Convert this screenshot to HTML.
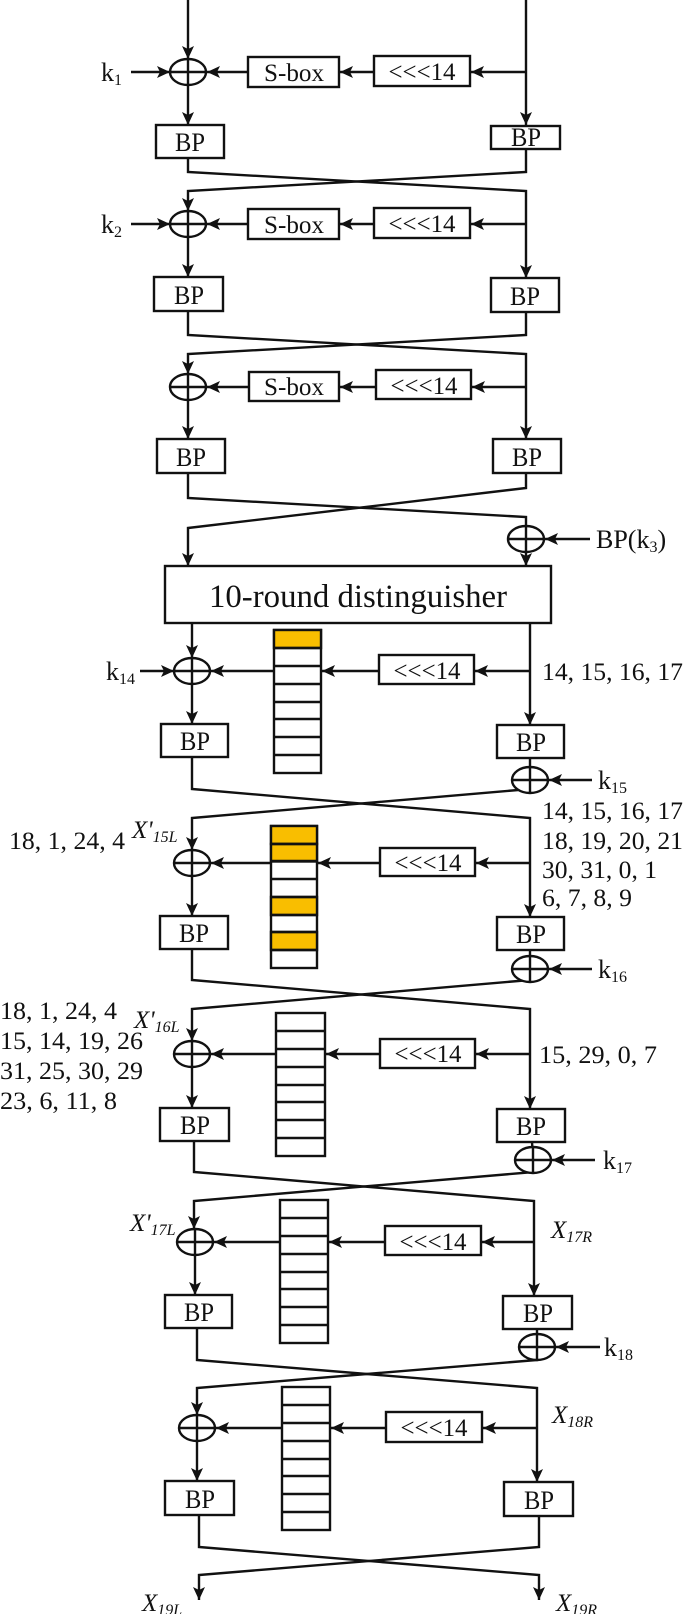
<!DOCTYPE html>
<html><head><meta charset="utf-8"><style>
html,body{margin:0;padding:0;background:#fff}
svg{display:block}
text{font-family:"Liberation Serif",serif;fill:#111}
</style></head><body>
<svg width="685" height="1614" viewBox="0 0 685 1614" xmlns="http://www.w3.org/2000/svg">
<defs>
<marker id="a" markerUnits="userSpaceOnUse" markerWidth="14" markerHeight="12" refX="13" refY="6" orient="auto">
<path d="M0,0 L13,6 L0,12 L3,6 z" fill="#111"/>
</marker>
</defs>
<g stroke="#111" stroke-width="2.4" fill="none">
<!-- Round 1 -->
<line x1="188" y1="0" x2="188" y2="59" marker-end="url(#a)"/>
<line x1="526" y1="0" x2="526" y2="125" marker-end="url(#a)"/>
<line x1="526" y1="72" x2="471" y2="72" marker-end="url(#a)"/>
<line x1="374" y1="72" x2="340" y2="72" marker-end="url(#a)"/>
<line x1="248" y1="72" x2="207" y2="72" marker-end="url(#a)"/>
<line x1="131" y1="72" x2="170" y2="72" marker-end="url(#a)"/>
<line x1="188" y1="85" x2="188" y2="125" marker-end="url(#a)"/>
<rect x="248" y="57" width="91" height="30"/><rect x="374" y="56" width="96" height="30"/>
<rect x="156" y="125" width="68" height="33"/><rect x="491" y="126" width="69" height="23"/>
<polyline points="188,158 188,172 526,191 526,278" marker-end="url(#a)"/>
<polyline points="526,149 526,172 188,191 188,211" marker-end="url(#a)"/>
<!-- Round 2 -->
<line x1="526" y1="224" x2="471" y2="224" marker-end="url(#a)"/>
<line x1="374" y1="224" x2="340" y2="224" marker-end="url(#a)"/>
<line x1="248" y1="224" x2="207" y2="224" marker-end="url(#a)"/>
<line x1="131" y1="224" x2="170" y2="224" marker-end="url(#a)"/>
<line x1="188" y1="237" x2="188" y2="277" marker-end="url(#a)"/>
<rect x="248" y="209" width="91" height="30"/><rect x="374" y="208" width="96" height="30"/>
<rect x="154" y="277" width="69" height="34"/><rect x="491" y="278" width="68" height="34"/>
<polyline points="188,311 188,335 526,354 526,439" marker-end="url(#a)"/>
<polyline points="526,312 526,335 188,354 188,374" marker-end="url(#a)"/>
<!-- Round 3 -->
<line x1="526" y1="387" x2="472" y2="387" marker-end="url(#a)"/>
<line x1="376" y1="387" x2="340" y2="387" marker-end="url(#a)"/>
<line x1="249" y1="387" x2="207" y2="387" marker-end="url(#a)"/>
<line x1="188" y1="400" x2="188" y2="439" marker-end="url(#a)"/>
<rect x="249" y="372" width="90" height="29"/><rect x="376" y="370" width="95" height="29"/>
<rect x="157" y="439" width="68" height="34"/><rect x="493" y="439" width="68" height="34"/>
<polyline points="188,473 188,498 526,517 526,526"/>
<polyline points="526,473 526,488 188,528 188,566" marker-end="url(#a)"/>
<line x1="526" y1="552" x2="526" y2="566" marker-end="url(#a)"/>
<line x1="590" y1="539" x2="545" y2="539" marker-end="url(#a)"/>
<rect x="165" y="566" width="386" height="57"/>
<!-- Round 14 -->
<line x1="192" y1="623" x2="192" y2="658" marker-end="url(#a)"/>
<line x1="530" y1="623" x2="530" y2="725" marker-end="url(#a)"/>
<line x1="530" y1="671" x2="475" y2="671" marker-end="url(#a)"/>
<line x1="379" y1="671" x2="322" y2="671" marker-end="url(#a)"/>
<line x1="274" y1="671" x2="211" y2="671" marker-end="url(#a)"/>
<line x1="140" y1="671" x2="174" y2="671" marker-end="url(#a)"/>
<line x1="192" y1="684" x2="192" y2="724" marker-end="url(#a)"/>
<rect x="379" y="655" width="95" height="29"/>
<rect x="161" y="724" width="67" height="33"/><rect x="497" y="725" width="67" height="33"/>
<line x1="592" y1="780" x2="549" y2="780" marker-end="url(#a)"/>
<polyline points="192,757 192,789 530,818 530,917" marker-end="url(#a)"/>
<polyline points="530,758 530,789 192,818 192,850" marker-end="url(#a)"/>
<!-- Round 15 -->
<line x1="530" y1="863" x2="476" y2="863" marker-end="url(#a)"/>
<line x1="380" y1="863" x2="318" y2="863" marker-end="url(#a)"/>
<line x1="271" y1="863" x2="211" y2="863" marker-end="url(#a)"/>
<line x1="192" y1="876" x2="192" y2="916" marker-end="url(#a)"/>
<rect x="380" y="848" width="95" height="28"/>
<rect x="160" y="916" width="68" height="33"/><rect x="497" y="917" width="67" height="33"/>
<line x1="592" y1="969" x2="549" y2="969" marker-end="url(#a)"/>
<polyline points="192,949 192,980 530,1009 530,1109" marker-end="url(#a)"/>
<polyline points="530,950 530,980 192,1009 192,1041" marker-end="url(#a)"/>
<!-- Round 16 -->
<line x1="530" y1="1054" x2="476" y2="1054" marker-end="url(#a)"/>
<line x1="380" y1="1054" x2="326" y2="1054" marker-end="url(#a)"/>
<line x1="276" y1="1054" x2="211" y2="1054" marker-end="url(#a)"/>
<line x1="192" y1="1067" x2="192" y2="1108" marker-end="url(#a)"/>
<rect x="380" y="1039" width="95" height="29"/>
<rect x="160" y="1108" width="69" height="33"/><rect x="497" y="1109" width="68" height="33"/>
<line x1="595" y1="1160" x2="552" y2="1160" marker-end="url(#a)"/>
<polyline points="194,1141 194,1172 534,1201 534,1296" marker-end="url(#a)"/>
<polyline points="532,1142 534,1172 194,1201 194,1229" marker-end="url(#a)"/>
<!-- Round 17 -->
<line x1="534" y1="1242" x2="482" y2="1242" marker-end="url(#a)"/>
<line x1="385" y1="1242" x2="329" y2="1242" marker-end="url(#a)"/>
<line x1="280" y1="1242" x2="214" y2="1242" marker-end="url(#a)"/>
<line x1="195" y1="1255" x2="195" y2="1295" marker-end="url(#a)"/>
<rect x="385" y="1226" width="96" height="29"/>
<rect x="165" y="1295" width="67" height="33"/><rect x="503" y="1296" width="69" height="33"/>
<line x1="600" y1="1347" x2="556" y2="1347" marker-end="url(#a)"/>
<polyline points="197,1328 197,1360 537,1388 537,1482" marker-end="url(#a)"/>
<polyline points="537,1329 537,1360 197,1388 197,1415" marker-end="url(#a)"/>
<!-- Round 18 -->
<line x1="537" y1="1428" x2="483" y2="1428" marker-end="url(#a)"/>
<line x1="386" y1="1428" x2="331" y2="1428" marker-end="url(#a)"/>
<line x1="282" y1="1428" x2="216" y2="1428" marker-end="url(#a)"/>
<line x1="197" y1="1441" x2="197" y2="1481" marker-end="url(#a)"/>
<rect x="386" y="1412" width="96" height="30"/>
<rect x="165" y="1481" width="69" height="34"/><rect x="504" y="1482" width="69" height="34"/>
<polyline points="199,1515 199,1547 539,1575 539,1600" marker-end="url(#a)"/>
<polyline points="539,1516 539,1547 199,1575 199,1600" marker-end="url(#a)"/>
</g>

<!-- cell columns -->
<g stroke="#111" stroke-width="2.4">
<g fill="#fff">
<rect x="274" y="630" width="47" height="143"/>
<rect x="271" y="826" width="46" height="142"/>
<rect x="276" y="1013" width="49" height="143"/>
<rect x="280" y="1200" width="48" height="143"/>
<rect x="282" y="1387" width="48" height="143"/>
</g>
<g fill="#F9BE00">
<rect x="274" y="630" width="47" height="18"/>
<rect x="271" y="826" width="46" height="18"/>
<rect x="271" y="844" width="46" height="17.5"/>
<rect x="271" y="897" width="46" height="18"/>
<rect x="271" y="932" width="46" height="18"/>
</g>
<path fill="none" d="M274,648H321M274,666H321M274,684H321M274,702H321M274,719H321M274,737H321M274,755H321
M271,844H317M271,861H317M271,879H317M271,897H317M271,915H317M271,932H317M271,950H317
M276,1031H325M276,1049H325M276,1067H325M276,1085H325M276,1102H325M276,1120H325M276,1138H325
M280,1218H328M280,1236H328M280,1254H328M280,1272H328M280,1289H328M280,1307H328M280,1325H328
M282,1405H330M282,1423H330M282,1441H330M282,1459H330M282,1476H330M282,1494H330M282,1512H330"/>
</g>

<!-- XORs -->
<g stroke="#111" stroke-width="2.4" fill="#fff">
<g><ellipse cx="188" cy="72" rx="18" ry="13"/><path d="M170,72H206M188,59V85"/></g>
<g><ellipse cx="188" cy="224" rx="18" ry="13"/><path d="M170,224H206M188,211V237"/></g>
<g><ellipse cx="188" cy="387" rx="18" ry="13"/><path d="M170,387H206M188,374V400"/></g>
<g><ellipse cx="526" cy="539" rx="18" ry="13"/><path d="M508,539H544M526,526V552"/></g>
<g><ellipse cx="192" cy="671" rx="18" ry="13"/><path d="M174,671H210M192,658V684"/></g>
<g><ellipse cx="530" cy="780" rx="18" ry="13"/><path d="M512,780H548M530,767V793"/></g>
<g><ellipse cx="192" cy="863" rx="18" ry="13"/><path d="M174,863H210M192,850V876"/></g>
<g><ellipse cx="530" cy="969" rx="18" ry="13"/><path d="M512,969H548M530,956V982"/></g>
<g><ellipse cx="192" cy="1054" rx="18" ry="13"/><path d="M174,1054H210M192,1041V1067"/></g>
<g><ellipse cx="533" cy="1160" rx="18" ry="13"/><path d="M515,1160H551M533,1147V1173"/></g>
<g><ellipse cx="195" cy="1242" rx="18" ry="13"/><path d="M177,1242H213M195,1229V1255"/></g>
<g><ellipse cx="537" cy="1347" rx="18" ry="13"/><path d="M519,1347H555M537,1334V1360"/></g>
<g><ellipse cx="197" cy="1428" rx="18" ry="13"/><path d="M179,1428H215M197,1415V1441"/></g>
</g>

<!-- text -->
<g font-size="26">
<text x="101" y="81">k<tspan font-size="16" dy="4">1</tspan></text>
<text x="101" y="233">k<tspan font-size="16" dy="4">2</tspan></text>
<text x="106" y="680">k<tspan font-size="16" dy="4">14</tspan></text>
<text x="598" y="789">k<tspan font-size="16" dy="4">15</tspan></text>
<text x="598" y="978">k<tspan font-size="16" dy="4">16</tspan></text>
<text x="603" y="1169">k<tspan font-size="16" dy="4">17</tspan></text>
<text x="604" y="1356">k<tspan font-size="16" dy="4">18</tspan></text>
<text x="596" y="548">BP(k<tspan font-size="16" dy="4">3</tspan><tspan dy="-4">)</tspan></text>
</g>
<g font-size="25" text-anchor="middle" lengthAdjust="spacingAndGlyphs">
<text x="294" y="81" textLength="60" lengthAdjust="spacingAndGlyphs">S-box</text><text x="294" y="233" textLength="60" lengthAdjust="spacingAndGlyphs">S-box</text><text x="294" y="395" textLength="60" lengthAdjust="spacingAndGlyphs">S-box</text>
<text x="422" y="80" textLength="67" lengthAdjust="spacingAndGlyphs">&lt;&lt;&lt;14</text><text x="422" y="232" textLength="67" lengthAdjust="spacingAndGlyphs">&lt;&lt;&lt;14</text><text x="424" y="394" textLength="67" lengthAdjust="spacingAndGlyphs">&lt;&lt;&lt;14</text>
<text x="427" y="679" textLength="67" lengthAdjust="spacingAndGlyphs">&lt;&lt;&lt;14</text><text x="428" y="871" textLength="67" lengthAdjust="spacingAndGlyphs">&lt;&lt;&lt;14</text><text x="428" y="1062" textLength="67" lengthAdjust="spacingAndGlyphs">&lt;&lt;&lt;14</text>
<text x="433" y="1250" textLength="67" lengthAdjust="spacingAndGlyphs">&lt;&lt;&lt;14</text><text x="434" y="1436" textLength="67" lengthAdjust="spacingAndGlyphs">&lt;&lt;&lt;14</text>
</g>
<g font-size="26" text-anchor="middle">
<text x="190" y="151" textLength="30" lengthAdjust="spacingAndGlyphs">BP</text><text x="526" y="146" textLength="30" lengthAdjust="spacingAndGlyphs">BP</text>
<text x="189" y="304" textLength="30" lengthAdjust="spacingAndGlyphs">BP</text><text x="525" y="305" textLength="30" lengthAdjust="spacingAndGlyphs">BP</text>
<text x="191" y="466" textLength="30" lengthAdjust="spacingAndGlyphs">BP</text><text x="527" y="466" textLength="30" lengthAdjust="spacingAndGlyphs">BP</text>
<text x="195" y="750" textLength="30" lengthAdjust="spacingAndGlyphs">BP</text><text x="531" y="751" textLength="30" lengthAdjust="spacingAndGlyphs">BP</text>
<text x="194" y="942" textLength="30" lengthAdjust="spacingAndGlyphs">BP</text><text x="531" y="943" textLength="30" lengthAdjust="spacingAndGlyphs">BP</text>
<text x="195" y="1134" textLength="30" lengthAdjust="spacingAndGlyphs">BP</text><text x="531" y="1135" textLength="30" lengthAdjust="spacingAndGlyphs">BP</text>
<text x="199" y="1321" textLength="30" lengthAdjust="spacingAndGlyphs">BP</text><text x="538" y="1322" textLength="30" lengthAdjust="spacingAndGlyphs">BP</text>
<text x="200" y="1508" textLength="30" lengthAdjust="spacingAndGlyphs">BP</text><text x="539" y="1509" textLength="30" lengthAdjust="spacingAndGlyphs">BP</text>
</g>
<text x="358" y="607" font-size="33" text-anchor="middle" textLength="298" lengthAdjust="spacingAndGlyphs">10-round distinguisher</text>
<g font-size="25">
<text x="542" y="680" textLength="141" lengthAdjust="spacingAndGlyphs">14, 15, 16, 17</text>
<text x="542" y="819" textLength="141" lengthAdjust="spacingAndGlyphs">14, 15, 16, 17</text>
<text x="542" y="849" textLength="141" lengthAdjust="spacingAndGlyphs">18, 19, 20, 21</text>
<text x="542" y="878" textLength="115" lengthAdjust="spacingAndGlyphs">30, 31, 0, 1</text>
<text x="542" y="906" textLength="90" lengthAdjust="spacingAndGlyphs">6, 7, 8, 9</text>
<text x="9" y="849" textLength="116" lengthAdjust="spacingAndGlyphs">18, 1, 24, 4</text>
<text x="0" y="1019" textLength="117" lengthAdjust="spacingAndGlyphs">18, 1, 24, 4</text>
<text x="0" y="1049" textLength="143" lengthAdjust="spacingAndGlyphs">15, 14, 19, 26</text>
<text x="0" y="1079" textLength="143" lengthAdjust="spacingAndGlyphs">31, 25, 30, 29</text>
<text x="0" y="1109" textLength="117" lengthAdjust="spacingAndGlyphs">23, 6, 11, 8</text>
<text x="539" y="1063" textLength="118" lengthAdjust="spacingAndGlyphs">15, 29, 0, 7</text>
</g>
<g font-size="25" font-style="italic">
<text x="132" y="838">X'<tspan font-size="16" dy="4">15L</tspan></text>
<text x="134" y="1028">X'<tspan font-size="16" dy="4">16L</tspan></text>
<text x="130" y="1231">X'<tspan font-size="16" dy="4">17L</tspan></text>
<text x="551" y="1238">X<tspan font-size="16" dy="4">17R</tspan></text>
<text x="552" y="1423">X<tspan font-size="16" dy="4">18R</tspan></text>
<text x="142" y="1611">X<tspan font-size="16" dy="4">19L</tspan></text>
<text x="556" y="1611">X<tspan font-size="16" dy="4">19R</tspan></text>
</g>
</svg>
</body></html>
